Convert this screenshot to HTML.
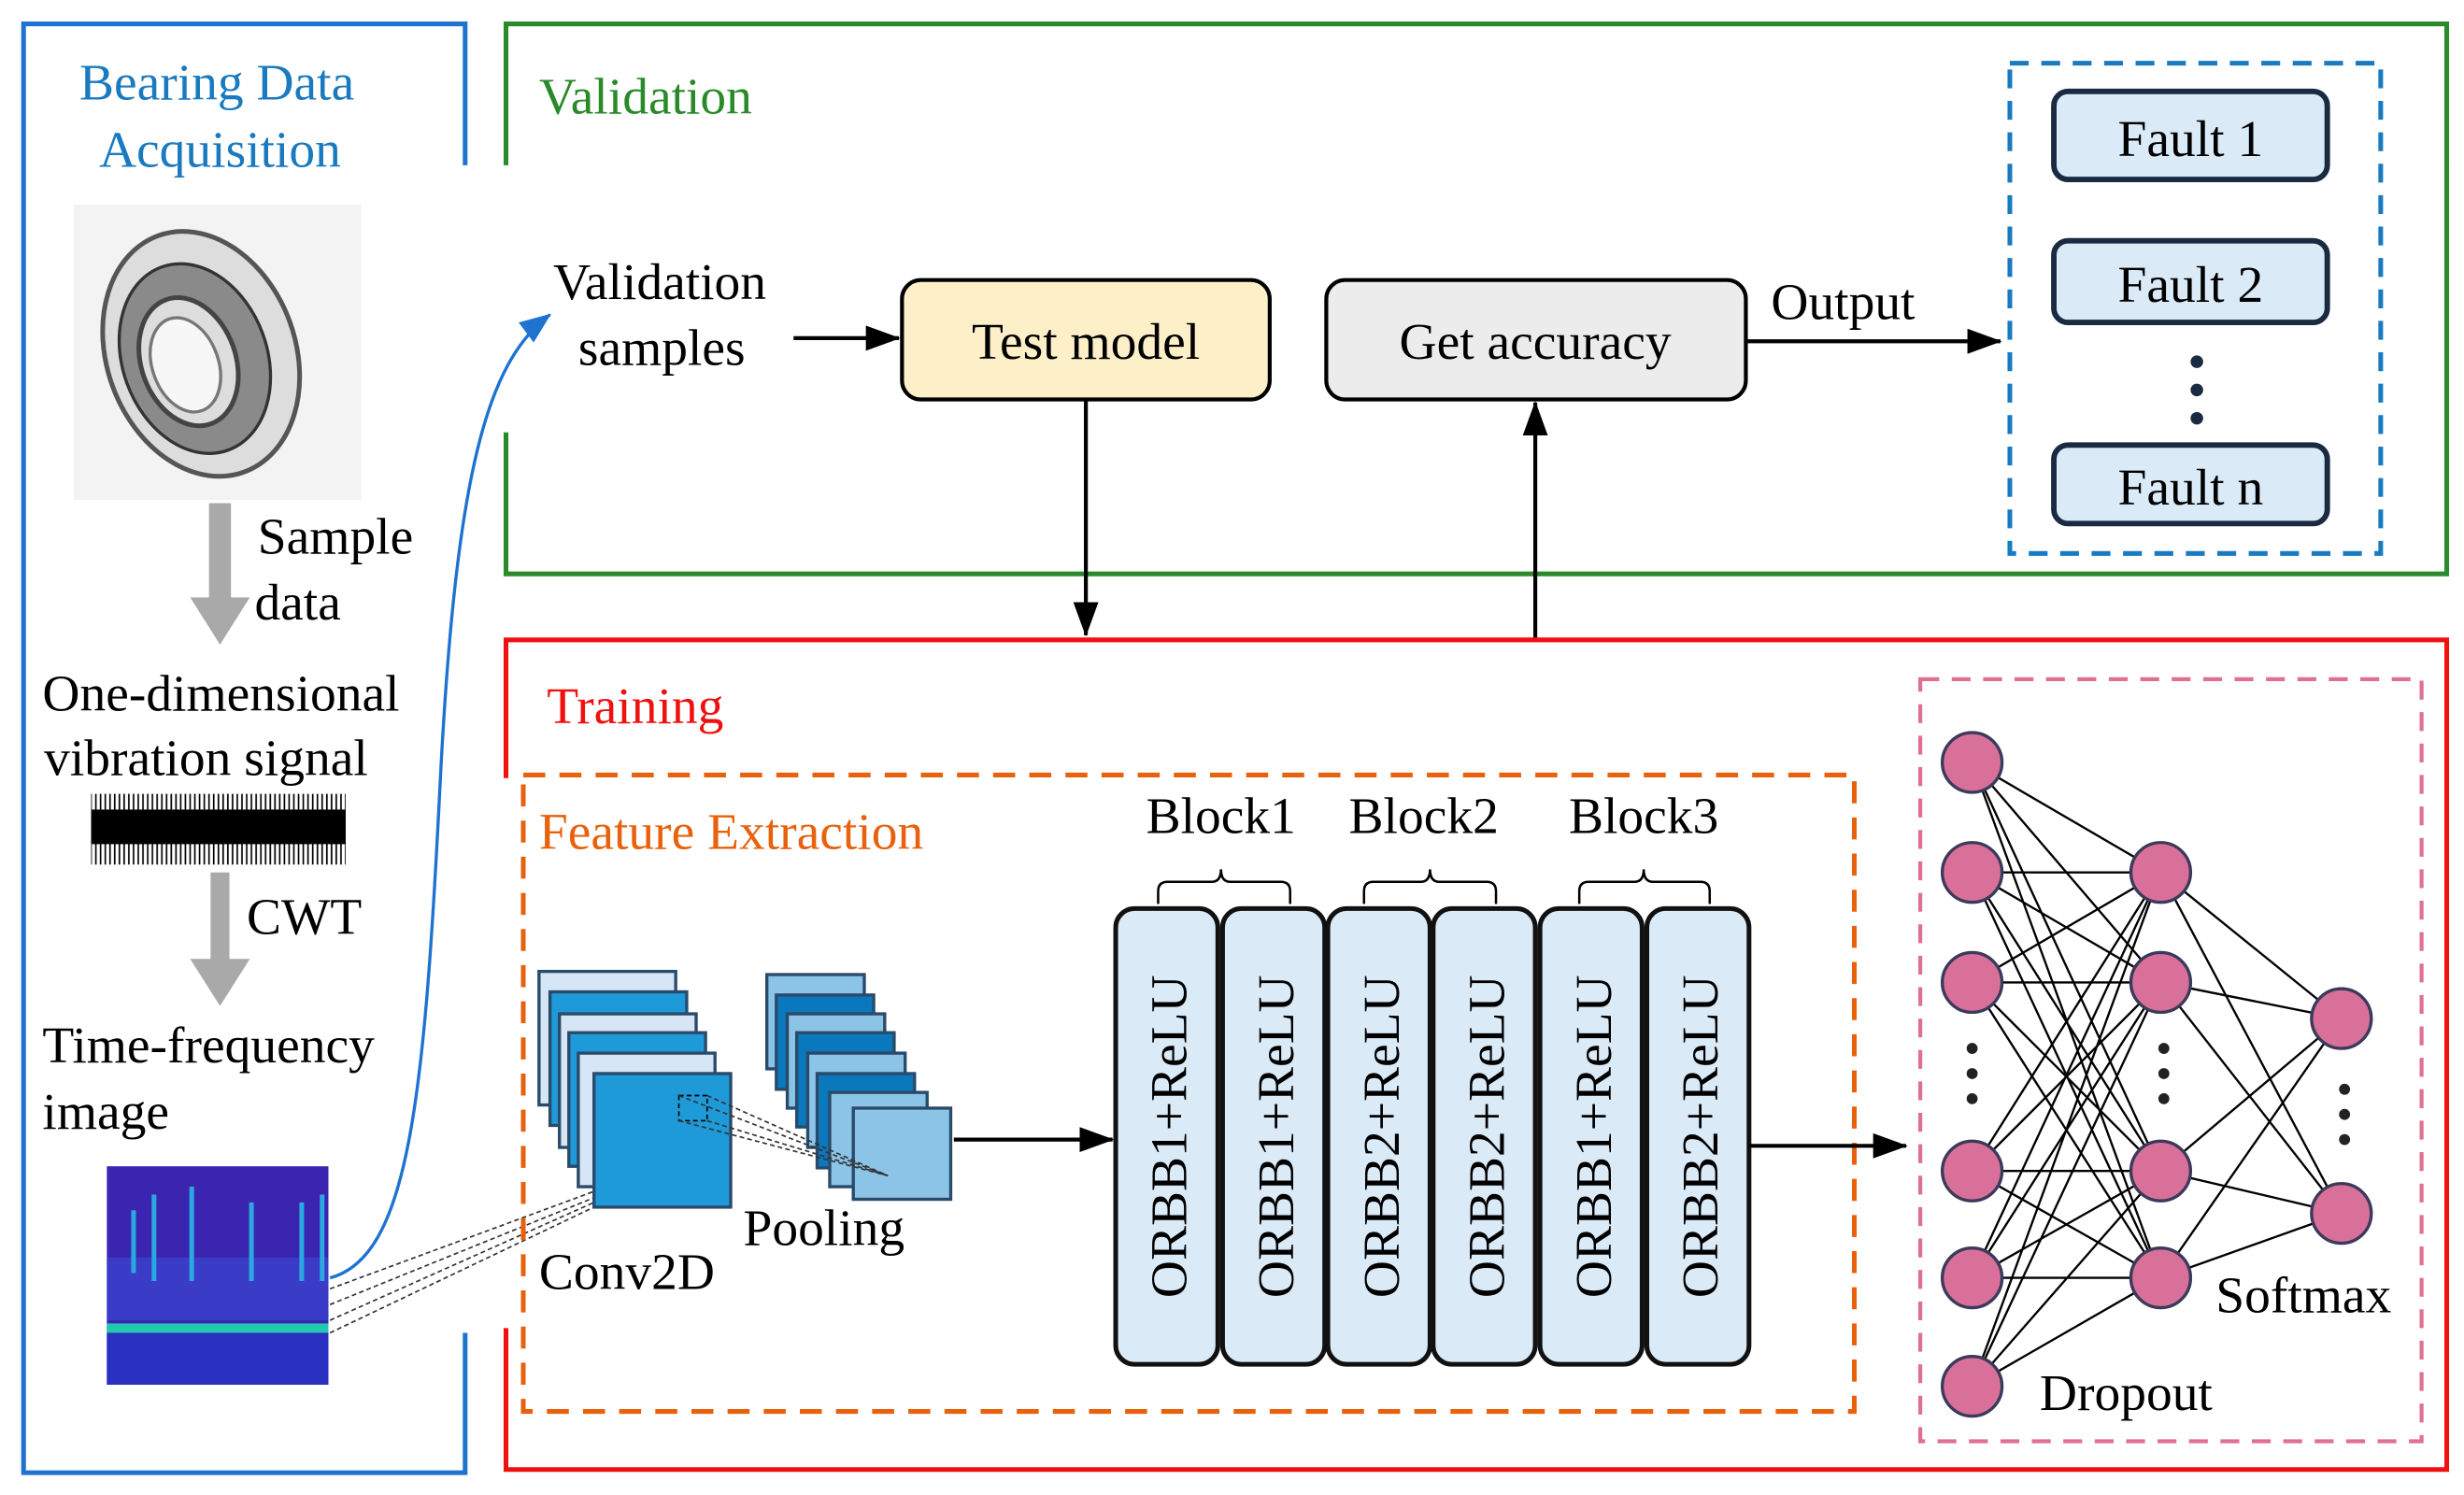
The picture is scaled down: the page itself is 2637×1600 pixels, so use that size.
<!DOCTYPE html>
<html><head><meta charset="utf-8"><style>html,body{margin:0;padding:0;background:#fff}svg{display:block}text{font-family:"Liberation Serif",serif}</style></head><body>
<svg width="2637" height="1600" viewBox="0 0 1568 951" xmlns="http://www.w3.org/2000/svg">
<defs>
<marker id="ak" markerWidth="22" markerHeight="16" refX="21" refY="8" orient="auto" markerUnits="userSpaceOnUse"><path d="M0,0 L22,8 L0,16 z" fill="#000"/></marker>
<marker id="abl" markerWidth="20" markerHeight="16" refX="19" refY="8" orient="auto" markerUnits="userSpaceOnUse"><path d="M0,0 L20,8 L0,16 z" fill="#1e72d0"/></marker>
<pattern id="wv" width="3" height="40" patternUnits="userSpaceOnUse"><line x1="1" y1="0" x2="1" y2="40" stroke="#000" stroke-width="1"/></pattern>
</defs>
<g font-size="33">
<!-- left blue panel -->
<path d="M296,105 V15 H15 V937 H296 V848" fill="none" stroke="#1e72d0" stroke-width="3"/>
<text x="138" y="63" fill="#1a7ac0" text-anchor="middle">Bearing Data</text>
<text x="140" y="106" fill="#1a7ac0" text-anchor="middle">Acquisition</text>
<rect x="47" y="130" width="183" height="188" fill="#f3f3f3"/>
<ellipse cx="128" cy="225" rx="60" ry="80" transform="rotate(-20 128 225)" fill="#ddd" stroke="#555" stroke-width="3"/>
<ellipse cx="124" cy="228" rx="46" ry="62" transform="rotate(-20 124 228)" fill="#8a8a8a" stroke="#333" stroke-width="2"/>
<ellipse cx="120" cy="230" rx="30" ry="42" transform="rotate(-20 120 230)" fill="#ddd" stroke="#444" stroke-width="3"/>
<ellipse cx="118" cy="232" rx="21" ry="31" transform="rotate(-20 118 232)" fill="#f7f7f7" stroke="#777" stroke-width="2"/>
<rect x="133" y="320" width="14" height="65" fill="#a9a9a9"/><path d="M121,380 L159,380 L140,410 z" fill="#a9a9a9"/>
<text x="164" y="352">Sample</text>
<text x="162" y="394">data</text>
<text x="27" y="452">One-dimensional</text>
<text x="28" y="493">vibration  signal</text>
<rect x="58" y="505" width="162" height="45" fill="url(#wv)"/>
<rect x="58" y="515" width="162" height="22" fill="#000"/>
<rect x="134" y="555" width="12" height="60" fill="#a9a9a9"/><path d="M121,610 L159,610 L140,640 z" fill="#a9a9a9"/>
<text x="157" y="594">CWT</text>
<text x="27" y="676">Time-frequency</text>
<text x="27" y="718">image</text>
<rect x="68" y="742" width="141" height="139" fill="#3a24b0"/>
<rect x="68" y="800" width="141" height="40" fill="#3a46d0" opacity="0.7"/>
<rect x="68" y="842" width="141" height="6" fill="#22c8b0"/>
<rect x="68" y="848" width="141" height="33" fill="#2a30c0"/>
<g stroke="#2aa8e0" stroke-width="3"><line x1="85" y1="770" x2="85" y2="810"/><line x1="98" y1="760" x2="98" y2="815"/><line x1="122" y1="755" x2="122" y2="815"/><line x1="160" y1="765" x2="160" y2="815"/><line x1="192" y1="765" x2="192" y2="815"/><line x1="205" y1="760" x2="205" y2="815"/></g>
<path d="M210,813 C260,800 270,700 280,500 C290,300 310,230 350,200" fill="none" stroke="#1e72d0" stroke-width="2" marker-end="url(#abl)"/>
<g stroke="#333" stroke-width="1" stroke-dasharray="3,2" fill="none"><line x1="210" y1="820" x2="378" y2="758"/><line x1="210" y1="830" x2="378" y2="762"/><line x1="210" y1="840" x2="378" y2="765"/><line x1="210" y1="848" x2="378" y2="768"/></g>
<!-- Validation -->
<path d="M322,105 V15 H1557 V365 H322 V275" fill="none" stroke="#2a8a2a" stroke-width="3"/>
<text x="343" y="72" fill="#2a8a2a">Validation</text>
<text x="352" y="190">Validation</text>
<text x="368" y="232">samples</text>
<line x1="505" y1="215" x2="572" y2="215" stroke="#000" stroke-width="2.5" marker-end="url(#ak)"/>
<rect x="574" y="178" width="234" height="76" rx="12" fill="#fdf0c8" stroke="#000" stroke-width="2.5"/>
<text x="691" y="228" text-anchor="middle">Test model</text>
<rect x="844" y="178" width="267" height="76" rx="12" fill="#ececec" stroke="#000" stroke-width="2.5"/>
<text x="977" y="228" text-anchor="middle">Get accuracy</text>
<text x="1127" y="203">Output</text>
<line x1="1111" y1="217" x2="1273" y2="217" stroke="#000" stroke-width="2.5" marker-end="url(#ak)"/>
<rect x="1279" y="40" width="236" height="312" fill="none" stroke="#1a7ac0" stroke-width="3" stroke-dasharray="12,8"/>
<g fill="#dbeaf7" stroke="#1a2a40" stroke-width="3.5">
<rect x="1307" y="58" width="174" height="56" rx="9"/><rect x="1307" y="153" width="174" height="52" rx="9"/><rect x="1307" y="283" width="174" height="50" rx="9"/></g>
<text x="1394" y="99" text-anchor="middle">Fault  1</text>
<text x="1394" y="192" text-anchor="middle">Fault  2</text>
<text x="1394" y="321" text-anchor="middle">Fault  n</text>
<g fill="#1a2a40"><circle cx="1398" cy="230" r="4"/><circle cx="1398" cy="248" r="4"/><circle cx="1398" cy="266" r="4"/></g>
<line x1="691" y1="254" x2="691" y2="404" stroke="#000" stroke-width="2.5" marker-end="url(#ak)"/>
<line x1="977" y1="407" x2="977" y2="256" stroke="#000" stroke-width="2.5" marker-end="url(#ak)"/>
<!-- Training -->
<path d="M322,495 V407 H1557 V935 H322 V845" fill="none" stroke="#f01010" stroke-width="3"/>
<text x="348" y="460" fill="#f01010">Training</text>
<rect x="333" y="493" width="847" height="405" fill="none" stroke="#e8620e" stroke-width="3" stroke-dasharray="14,9"/>
<text x="343" y="540" fill="#e8620e">Feature Extraction</text>
<g stroke="#2a4a6a" stroke-width="2">
<rect x="343" y="618" width="87" height="85" fill="#d6e6f6"/>
<rect x="350" y="631" width="87" height="85" fill="#1f9ad8"/>
<rect x="356" y="645" width="87" height="85" fill="#d6e6f6"/>
<rect x="362" y="657" width="87" height="85" fill="#1f9ad8"/>
<rect x="368" y="670" width="87" height="85" fill="#d6e6f6"/>
<rect x="378" y="683" width="87" height="85" fill="#1f9ad8"/>
<rect x="488" y="620" width="62" height="60" fill="#8cc4e8"/>
<rect x="494" y="633" width="62" height="60" fill="#0a78bc"/>
<rect x="501" y="645" width="62" height="60" fill="#8cc4e8"/>
<rect x="507" y="657" width="62" height="60" fill="#0a78bc"/>
<rect x="514" y="670" width="62" height="60" fill="#8cc4e8"/>
<rect x="520" y="683" width="62" height="60" fill="#0a78bc"/>
<rect x="528" y="695" width="62" height="60" fill="#8cc4e8"/>
<rect x="543" y="705" width="62" height="58" fill="#8cc4e8"/>
</g>
<rect x="432" y="697" width="18" height="16" fill="none" stroke="#000" stroke-dasharray="3,2"/>
<g stroke="#333" stroke-width="1" stroke-dasharray="3,2"><line x1="432" y1="697" x2="565" y2="748"/><line x1="450" y1="697" x2="565" y2="748"/><line x1="432" y1="713" x2="565" y2="748"/><line x1="450" y1="713" x2="565" y2="748"/></g>
<text x="343" y="820">Conv2D</text>
<text x="473" y="792">Pooling</text>
<line x1="607" y1="725" x2="708" y2="725" stroke="#000" stroke-width="2.5" marker-end="url(#ak)"/>
<g fill="#dbeaf7" stroke="#111" stroke-width="3">
<rect x="710" y="578" width="65" height="290" rx="12"/><rect x="778" y="578" width="65" height="290" rx="12"/>
<rect x="845" y="578" width="65" height="290" rx="12"/><rect x="912" y="578" width="65" height="290" rx="12"/>
<rect x="980" y="578" width="65" height="290" rx="12"/><rect x="1048" y="578" width="65" height="290" rx="12"/></g>
<text transform="translate(755,723) rotate(-90)" text-anchor="middle">ORBB1+ReLU</text>
<text transform="translate(823,723) rotate(-90)" text-anchor="middle">ORBB1+ReLU</text>
<text transform="translate(890,723) rotate(-90)" text-anchor="middle">ORBB2+ReLU</text>
<text transform="translate(957,723) rotate(-90)" text-anchor="middle">ORBB2+ReLU</text>
<text transform="translate(1025,723) rotate(-90)" text-anchor="middle">ORBB1+ReLU</text>
<text transform="translate(1093,723) rotate(-90)" text-anchor="middle">ORBB2+ReLU</text>
<text x="777" y="530" text-anchor="middle">Block1</text>
<text x="906" y="530" text-anchor="middle">Block2</text>
<text x="1046" y="530" text-anchor="middle">Block3</text>
<g fill="none" stroke="#000" stroke-width="1.5">
<path d="M737,575 V567 Q737,561 743,561 H771 Q777,561 777,553 Q777,561 783,561 H815 Q821,561 821,567 V575"/>
<path d="M868,575 V567 Q868,561 874,561 H904 Q910,561 910,553 Q910,561 916,561 H946 Q952,561 952,567 V575"/>
<path d="M1005,575 V567 Q1005,561 1011,561 H1040 Q1046,561 1046,553 Q1046,561 1052,561 H1082 Q1088,561 1088,567 V575"/></g>
<line x1="1113" y1="729" x2="1213" y2="729" stroke="#000" stroke-width="2.5" marker-end="url(#ak)"/>
<rect x="1222" y="432" width="319" height="485" fill="none" stroke="#e07090" stroke-width="2.5" stroke-dasharray="12,8"/>
<g stroke="#000" stroke-width="1.4">
<path d="M1255,485 L1375,555 M1255,485 L1375,625 M1255,485 L1375,745 M1255,485 L1375,813
M1255,555 L1375,555 M1255,555 L1375,625 M1255,555 L1375,745 M1255,555 L1375,813
M1255,625 L1375,555 M1255,625 L1375,625 M1255,625 L1375,745 M1255,625 L1375,813
M1255,745 L1375,555 M1255,745 L1375,625 M1255,745 L1375,745 M1255,745 L1375,813
M1255,813 L1375,555 M1255,813 L1375,625 M1255,813 L1375,745 M1255,813 L1375,813
M1255,882 L1375,555 M1255,882 L1375,625 M1255,882 L1375,745 M1255,882 L1375,813
M1375,555 L1490,648 M1375,555 L1490,772 M1375,625 L1490,648 M1375,625 L1490,772
M1375,745 L1490,648 M1375,745 L1490,772 M1375,813 L1490,648 M1375,813 L1490,772"/></g>
<g fill="#d9709a" stroke="#3a3a5a" stroke-width="2">
<circle cx="1255" cy="485" r="19"/><circle cx="1255" cy="555" r="19"/><circle cx="1255" cy="625" r="19"/><circle cx="1255" cy="745" r="19"/><circle cx="1255" cy="813" r="19"/><circle cx="1255" cy="882" r="19"/>
<circle cx="1375" cy="555" r="19"/><circle cx="1375" cy="625" r="19"/><circle cx="1375" cy="745" r="19"/><circle cx="1375" cy="813" r="19"/>
<circle cx="1490" cy="648" r="19"/><circle cx="1490" cy="772" r="19"/></g>
<g fill="#222"><circle cx="1255" cy="667" r="3.5"/><circle cx="1255" cy="683" r="3.5"/><circle cx="1255" cy="699" r="3.5"/>
<circle cx="1377" cy="667" r="3.5"/><circle cx="1377" cy="683" r="3.5"/><circle cx="1377" cy="699" r="3.5"/>
<circle cx="1492" cy="693" r="3.5"/><circle cx="1492" cy="709" r="3.5"/><circle cx="1492" cy="725" r="3.5"/></g>
<text x="1298" y="897">Dropout</text>
<text x="1410" y="835">Softmax</text>
</g>
</svg>
</body></html>
